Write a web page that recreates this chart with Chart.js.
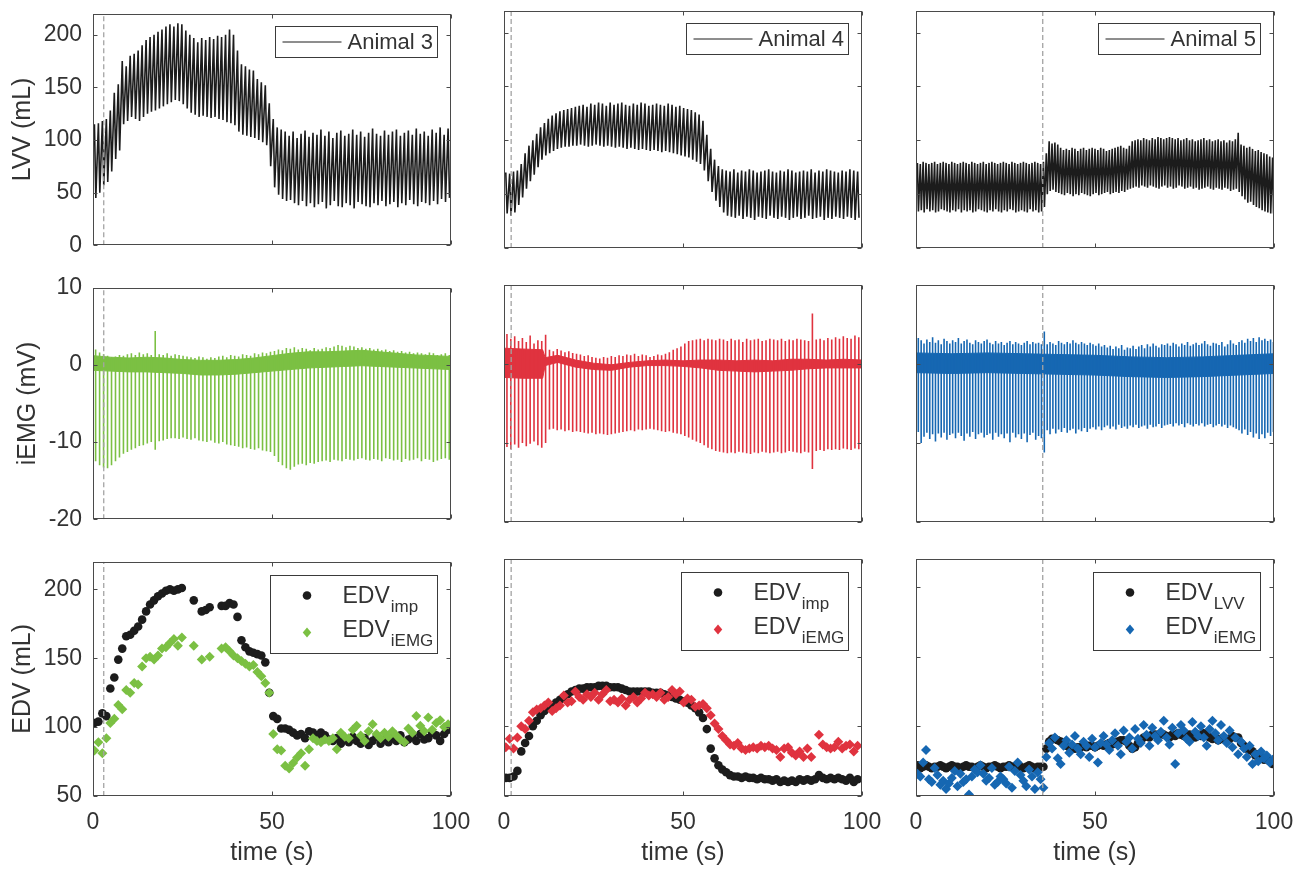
<!DOCTYPE html>
<html><head><meta charset="utf-8">
<script src="https://cdn.jsdelivr.net/npm/chart.js@4.4.0/dist/chart.umd.min.js"></script>
<style>
html,body{margin:0;padding:0;background:#fff;}
#wrap{position:relative;width:1303px;height:871px;overflow:hidden;background:#fff;}
canvas{position:absolute;}
</style></head><body><div id="wrap"></div>
<script>
// ---------------- DATA ----------------
const X_TICKS = [0, 50, 100];
const LVV_TICKS = [0, 50, 100, 150, 200];
const EMG_TICKS = [-20, -10, 0, 10];
const EDV_TICKS = [50, 100, 150, 200];
const LVV_RANGE = [0, 220];
const EMG_RANGE = [-20, 10];
const EDV_RANGE = [50, 220];
const MARK_T = [3, 2, 35.4];            // dashed vertical marker per animal
const ANIMALS = ['Animal 3', 'Animal 4', 'Animal 5'];
const EDV_SUBS = [['imp', 'iEMG'], ['imp', 'iEMG'], ['LVV', 'iEMG']];
const Y_TITLES = ['LVV (mL)', 'iEMG (mV)', 'EDV (mL)'];
const X_TITLE = 'time (s)';

// beat timing (first beat time, beat period) per animal
const A3_T0 = 0.4, A3_DT = 1.11;
const A4_T0 = 0.5, A4_DT = 1.08;
const A5_T0 = 0.4, A5_DT = 0.8;

// Animal 3 — LVV per-beat peaks / troughs (mL)
const A3_LVV_HI = [115,116,118,120,128,145,153,175,170,180,182,185,190,195,198,200,203,205,208,210,208,211,210,204,200,197,193,197,195,198,196,199,198,200,205,200,185,172,170,167,166,158,155,152,135,120,112,110,108,
104,108,102,106,109,103,107,105,110,104,108,102,107,109,104,106,110,105,108,103,107,111,106,104,109,105,108,110,104,107,109,105,111,106,108,104,110,107,112,105,111];
const A3_LVV_LO = [45,50,57,60,70,82,90,115,118,122,120,118,122,125,127,128,130,132,134,136,138,137,134,130,126,124,122,123,122,121,122,120,119,117,116,114,108,105,104,103,102,100,98,95,75,55,48,44,42,
43,40,38,42,37,40,36,39,41,35,38,42,37,36,40,38,35,41,39,37,36,40,38,42,37,39,41,36,40,38,43,39,37,41,40,38,42,39,44,41,45];
// Animal 3 — iEMG per-beat spike top / bottom (mV) and baseline band
const A3_EMG_UP = [2.0,1.6,1.4,1.2,1.0,1.1,1.3,1.2,1.4,1.5,1.3,1.6,1.4,1.5,1.3,4.4,
1.4,1.3,1.5,1.2,1.4,1.3,1.2,1.1,1.0,0.9,1.1,1.0,0.8,1.0,0.9,1.1,1.2,1.0,1.3,1.2,1.1,1.4,1.3,1.2,1.5,1.4,1.6,1.5,1.7,
1.8,2.0,1.9,2.2,2.1,2.3,2.0,2.2,2.1,1.9,2.2,2.0,2.1,2.3,2.2,2.4,2.6,2.5,2.3,2.5,2.4,2.2,2.3,2.1,2.2,2.0,2.1,1.9,2.0,1.8,1.9,1.7,1.8,1.6,1.7,1.5,1.6,1.5,1.4,1.6,1.5,1.3,1.4,1.5,1.3];
const A3_EMG_DN = [-12.5,-13.0,-13.3,-13.4,-13.0,-12.5,-12.0,-11.5,-11.3,-11.0,-10.8,-10.5,-10.4,-10.2,-10.0,-11.0,-9.9,-9.8,-9.6,-9.5,
-9.5,-9.6,-9.4,-9.6,-9.7,-9.5,-9.8,-9.9,-10.0,-9.8,-10.1,-10.2,-10.0,-10.3,
-10.4,-10.5,-10.6,-10.8,-10.7,-10.9,-11.0,-10.8,-11.1,-11.2,-11.3,-11.8,-12.6,-13.0,-13.4,-13.6,-13.2,-12.9,-12.8,-13.0,-12.7,-12.8,-12.6,
-12.5,-12.4,-12.6,-12.3,-12.4,-12.5,-12.2,-12.3,-12.4,-12.2,-12.1,-12.3,-12.4,-12.2,-12.3,-12.5,-12.1,-12.2,-12.4,-12.3,-12.6,-12.2,-12.4,-12.3,-12.1,-12.5,-12.2,-12.3,-12.6,-12.4,-12.2,-12.1,-12.3];
const A3_BAND_T = [0,5,10,15,20,25,30,35,40,45,50,55,60,65,70,75,80,85,90,95,100];
const A3_BAND_HI = [1.2,1.0,0.9,1.0,0.9,0.7,0.6,0.6,0.7,0.9,1.2,1.5,1.7,1.7,1.8,1.9,1.7,1.5,1.3,1.2,1.1];
const A3_BAND_LO = [-0.7,-0.8,-0.9,-0.9,-1.0,-1.1,-1.3,-1.3,-1.2,-1.0,-0.8,-0.6,-0.4,-0.3,-0.2,-0.1,-0.2,-0.3,-0.4,-0.5,-0.6];
// Animal 3 — EDV per beat (mL), null = no estimate
const A3_EDV_IMP = [103,104,110,108,128,136,149,157,166,167,170,173,178,184,189,192,195,197,199,200,199,200,201,null,null,192,null,184,185,187,
null,null,188,188,190,189,180,163,158,155,154,153,152,147,125,108,106,99,99,98,96,94,95,92,97,96,93,96,94,91,
90,92,88,91,89,93,90,88,92,87,90,93,88,91,89,92,90,94,89,91,93,90,95,91,92,96,94,90,95,98];
const A3_EDV_EMG = [83,89,81,92,103,106,116,113,127,125,132,131,144,150,151,149,152,157,158,161,164,159,165,null,null,159,null,149,null,151,
null,null,157,158,155,152,150,148,146,144,145,140,137,132,125,95,84,83,72,70,74,78,81,72,84,92,90,89,91,90,
92,84,96,93,92,98,101,94,90,97,102,95,92,96,93,97,94,91,89,99,96,108,101,97,107,98,103,105,100,102];

// Animal 4
const A4_LVV_HI = [70,69,71,72,78,88,95,100,106,112,116,120,123,125,127,128,129,130,131,
132,133,131,134,133,135,134,132,135,133,134,135,133,132,134,133,135,134,132,133,134,133,132,134,133,131,132,130,129,128,
126,124,118,105,92,82,76,73,
72,71,73,70,72,71,73,72,70,71,72,73,71,70,72,71,73,72,70,71,72,71,73,70,72,71,73,72,71,70,72,71,73,72,71];
const A4_LVV_LO = [32,30,33,40,47,55,62,68,75,82,86,88,90,92,93,94,94,
95,95,96,95,94,95,96,95,94,95,94,93,94,93,92,93,92,91,92,91,90,91,90,89,90,89,88,87,86,85,84,82,
80,78,72,62,52,44,38,33,
30,29,28,30,27,29,28,26,29,28,27,30,28,27,29,28,26,28,29,27,28,30,27,28,29,26,28,27,29,28,27,29,28,26,28];
const A4_EMG_UP = [3.8,3.2,3.5,2.9,3.3,2.8,3.6,2.6,3.0,2.9,3.7,1.8,1.6,1.9,1.7,1.5,1.6,1.4,1.3,
1.2,1.0,1.1,0.9,0.8,0.7,0.9,0.8,1.0,0.9,1.1,1.0,1.2,1.1,1.3,1.0,1.2,1.1,0.9,1.0,1.2,1.1,1.3,1.5,1.8,2.0,2.2,
2.6,2.9,3.0,3.1,3.2,3.0,3.2,3.1,
3.0,3.2,3.1,2.9,3.2,3.0,3.1,2.8,3.2,3.0,3.1,3.2,2.9,3.0,3.2,3.1,3.0,3.2,2.9,3.1,3.0,3.2,3.1,3.0,2.9,6.4,3.1,3.2,3.0,3.3,3.1,3.4,3.2,3.5,3.3,3.2,3.6,3.4];
const A4_EMG_DN = [-10.5,-10.8,-10.2,-10.6,-10.0,-10.4,-10.1,-9.8,-10.3,-10.6,-10.0,
-8.3,-8.2,-8.4,-8.3,-8.5,-8.4,-8.6,-8.5,-8.6,-8.7,-8.8,-8.7,-8.9,-8.8,-8.9,-9.0,-8.9,-8.8,-8.7,
-8.6,-8.5,-8.4,-8.5,-8.3,-8.4,-8.3,-8.2,-8.3,-8.4,-8.5,-8.6,-8.5,-8.7,-8.8,-8.9,
-9.1,-9.3,-9.6,-9.8,-10.0,-10.3,-10.6,-10.8,
-11.0,-11.1,-11.2,-11.3,-11.2,-11.3,-11.1,-11.2,-11.3,-11.4,-11.2,-11.3,-11.1,-11.2,-11.3,-11.2,-11.1,-11.3,-11.2,-11.0,
-11.1,-11.2,-11.3,-11.1,-11.2,-13.3,-11.0,-10.9,-11.0,-10.8,-10.9,-10.8,-10.9,-10.7,-10.8,-10.9,-10.7,-10.8];
const A4_BAND_T = [0,5,10.8,11.5,15,20,25,30,35,40,45,50,55,60,65,70,75,80,85,90,95,100];
const A4_BAND_HI = [2.0,1.9,1.8,0.8,1.1,0.5,0.1,-0.1,0.2,0.4,0.5,0.4,0.5,0.5,0.4,0.5,0.4,0.6,0.6,0.5,0.6,0.5];
const A4_BAND_LO = [-1.7,-1.8,-1.8,-0.2,0.2,-0.4,-0.7,-0.8,-0.4,-0.2,-0.2,-0.3,-0.5,-0.8,-0.9,-1.0,-0.9,-0.8,-0.6,-0.5,-0.5,-0.5];
const A4_EDV_IMP = [63,63,64,68,82,88,93,100,104,108,111,114,115,117,119,121,123,125,126,127,
127,128,128,128,129,129,129,128,128,128,127,126,125,125,125,125,125,125,124,124,
124,123,122,121,120,119,118,117,115,113,110,106,98,84,77,72,69,67,65,64,
64,63,64,63,63,62,63,62,62,61,62,60,61,60,61,60,62,61,62,61,62,65,63,62,63,62,63,62,61,63,60,62];
const A4_EDV_EMG = [85,91,84,92,100,98,104,110,112,113,115,117,111,113,115,122,117,118,125,121,
119,123,121,124,119,123,126,118,119,117,120,115,119,121,117,120,124,122,123,121,
124,119,121,126,123,125,117,120,119,114,115,116,113,108,102,98,93,90,87,86,
88,84,83,84,85,84,86,85,86,84,83,78,84,85,81,79,82,78,84,78,null,94,87,85,84,85,89,84,86,87,82,86];

// Animal 5
const A5_LVV_HI = [79,78,80,79,78,79,80,78,79,80,79,78,80,79,78,79,80,79,78,80,79,78,79,80,78,79,80,79,78,79,80,79,78,80,79,78,79,80,79,78,79,80,79,78,
80,88,99,97,98,96,93,91,92,91,93,92,90,92,93,91,92,93,92,91,93,92,90,91,92,93,94,95,93,92,
95,99,100,101,100,102,101,100,102,101,103,102,101,102,103,102,101,102,100,101,102,100,101,99,100,101,102,100,101,99,
100,101,99,100,98,100,99,101,107,96,95,93,94,92,90,91,89,88,87,85,84];
const A5_LVV_LO = [34,35,33,36,34,35,33,34,36,35,34,33,35,34,36,33,35,34,35,33,34,36,35,34,33,35,34,36,34,33,35,34,36,35,33,34,35,34,33,36,34,35,33,34,
38,50,53,54,52,51,50,
49,51,50,48,50,49,51,50,49,48,50,51,49,50,51,52,50,51,52,51,53,52,54,
55,56,57,56,58,57,56,58,57,56,55,57,58,56,57,55,56,58,57,55,56,57,55,56,54,55,56,57,55,54,56,55,54,56,55,53,54,55,
52,48,45,42,43,40,38,37,35,34,33,32,32];
const A5_EMG_UP = [3.3,3.0,2.6,3.1,2.8,3.4,2.7,3.0,2.5,3.2,2.9,2.6,3.0,2.8,3.3,2.6,2.9,3.1,2.7,2.5,3.0,2.8,2.6,2.9,3.1,2.7,2.5,2.9,2.6,2.8,2.4,2.7,2.9,2.5,2.8,2.6,2.4,2.7,2.9,2.5,2.8,2.6,2.7,2.5,
4.1,
2.5,2.8,2.6,2.4,2.9,2.7,2.5,2.8,2.6,3.0,2.7,2.5,2.8,2.6,2.4,2.7,
2.5,2.3,2.6,2.2,2.4,2.1,2.3,1.9,2.2,2.0,2.4,1.8,2.1,2.0,2.3,1.9,2.2,2.4,2.0,2.5,2.2,2.6,2.3,2.1,2.5,2.4,2.6,
2.3,2.7,2.5,2.2,2.6,2.4,2.8,2.3,2.5,2.7,2.4,2.6,2.9,2.5,2.3,2.7,2.6,2.4,2.8,2.2,2.5,3.0,2.6,2.4,
2.8,3.0,2.7,3.2,2.9,3.3,2.8,3.4,3.0,3.2,2.9,3.1,2.8];
const A5_EMG_DN = [-8.6,-10.0,-9.2,-8.7,-9.5,-8.9,-9.8,-8.8,-9.3,-8.7,-9.6,-9.0,-8.8,-9.4,-8.7,-9.1,-9.7,-8.8,-9.2,-8.6,-9.5,-8.9,-8.7,-9.3,-9.0,-8.8,-9.6,-8.7,-9.2,-8.9,-9.4,-8.8,-9.9,-8.7,-9.3,-8.9,-9.5,-8.8,-9.9,-9.0,-8.7,-9.6,-9.1,-9.4,
-11.2,
-8.4,-8.9,-8.2,-8.8,-8.3,-8.6,-8.1,-8.7,-8.4,-8.2,-8.8,-8.3,-8.5,-8.1,-8.6,-8.2,
-8.0,-8.3,-7.9,-8.4,-8.0,-7.8,-8.2,-7.9,-8.3,-7.7,-8.1,-7.9,-8.2,-7.8,-8.0,-7.7,-8.1,-7.9,-7.8,-8.2,-7.7,-8.0,-7.9,-7.6,-8.1,-7.8,-7.7,
-7.6,-7.9,-7.5,-7.8,-7.6,-8.0,-7.5,-7.7,-7.9,-7.6,-7.8,-7.5,-7.9,-7.7,-7.6,-8.0,-7.8,-7.6,-7.9,-7.7,-8.1,-7.8,-8.0,-8.2,
-8.4,-8.8,-8.3,-9.0,-8.6,-9.3,-8.8,-9.5,-8.9,-9.4,-8.7,-9.1,-8.6];
const A5_BAND_T = [0,10,20,30,40,50,60,70,80,90,100];
const A5_BAND_HI = [1.4,1.3,1.4,1.3,1.2,1.1,0.9,0.8,0.9,1.1,1.3];
const A5_BAND_LO = [-1.1,-1.2,-1.1,-1.2,-1.3,-1.4,-1.6,-1.7,-1.6,-1.4,-1.2];
const A5_EDV_LVV = [72,70,71,72,71,70,71,71,72,71,70,71,72,71,71,70,71,72,71,71,70,71,72,71,70,71,71,72,71,70,71,71,72,71,70,71,71,70,71,72,71,70,71,71,
71,84,89,91,91,90,89,88,86,85,84,84,85,85,86,85,86,86,85,86,87,86,87,88,87,88,89,90,90,89,
86,84,85,88,90,92,93,92,94,94,93,95,94,93,92,94,93,95,94,93,92,94,93,92,94,93,95,94,92,91,
92,90,91,92,90,91,93,92,92,88,86,84,83,82,79,80,78,76,77,75,73];
const A5_EDV_EMG = [66,64,74,83,62,60,70,65,58,61,55,59,63,68,57,66,60,62,51,64,69,67,72,66,61,63,70,58,60,64,62,59,71,56,68,74,65,61,57,69,64,55,67,62,56,
78,88,84,92,77,73,86,90,81,87,93,84,80,89,86,78,91,85,74,88,93,87,83,90,95,86,80,97,89,92,
84,98,91,88,101,94,86,99,93,90,96,104,92,87,99,73,95,101,97,91,89,103,96,93,100,92,86,98,104,95,
90,101,93,88,97,85,92,80,89,84,78,86,73,80,75,82,77,79,74,76];

// ---------------- STYLE / LAYOUT ----------------
const FONT = "'Liberation Sans', Arial, Helvetica, sans-serif";
const TXT = '#333333', AXC = '#4a4a4a';
const BLACK = '#1c1c1c';
const COLORS = ['#7BC043', '#E0333F', '#1667B2'];
const COL_L = [93, 504, 916], ROW_T = [11, 285, 559];
const PW = 358, PH = 237, ML = 93, MR = 44, MT = 22, MB = [22, 22, 75];
const YT_PAD = [8, 13, 8];
const TICK_FS = 23, TITLE_FS = 25;

function beatTimes(n, t0, dt) { const a = []; for (let i = 0; i < n; i++) a.push(t0 + i * dt); return a; }
function lvvData(hi, lo, t0, dt) {
  const t = beatTimes(hi.length, t0, dt), d = [];
  for (let i = 0; i < hi.length; i++) { d.push({x: t[i], y: hi[i]}); d.push({x: t[i] + 0.35 * dt, y: lo[i]}); }
  return d;
}
function spikeData(up, dn, t0, dt) {
  const t = beatTimes(up.length, t0, dt), d = [];
  for (let i = 0; i < up.length; i++) {
    const x = t[i] + 0.3 * dt;
    d.push({x, y: up[i]}, {x, y: dn[i]}, {x, y: null});
  }
  return d;
}
function series(tt, v) { return tt.map((x, i) => ({x, y: v[i]})); }
function edvData(v, t0, dt) { const t = beatTimes(v.length, t0, dt); return v.map((y, i) => ({x: t[i], y})).filter(p => p.y !== null); }

const framePlugin = {
  id: 'mframe',
  afterDraw(chart) {
    const ctx = chart.ctx, a = chart.chartArea, xs = chart.scales.x, ys = chart.scales.y, TL = 4;
    ctx.save();
    ctx.strokeStyle = AXC; ctx.lineWidth = 1;
    const L = Math.round(a.left) + 0.5, R = Math.round(a.right) - 0.5, T = Math.round(a.top) + 0.5, B = Math.round(a.bottom) - 0.5;
    ctx.strokeRect(L, T, R - L, B - T);
    ctx.beginPath();
    xs.ticks.forEach(tk => {
      const p = Math.round(xs.getPixelForValue(tk.value)) + 0.5;
      ctx.moveTo(p, B); ctx.lineTo(p, B - TL); ctx.moveTo(p, T); ctx.lineTo(p, T + TL);
    });
    ys.ticks.forEach(tk => {
      const p = Math.round(ys.getPixelForValue(tk.value)) + 0.5;
      ctx.moveTo(L, p); ctx.lineTo(L + TL, p); ctx.moveTo(R, p); ctx.lineTo(R - TL, p);
    });
    ctx.stroke();
    ctx.restore();
  }
};

function drawMarker(ctx, style, r, x, y, color) {
  ctx.fillStyle = color;
  ctx.beginPath();
  if (style === 'circle') ctx.arc(x, y, r, 0, Math.PI * 2);
  else { ctx.moveTo(x, y - r); ctx.lineTo(x + r * 0.85, y); ctx.lineTo(x, y + r); ctx.lineTo(x - r * 0.85, y); ctx.closePath(); }
  ctx.fill();
}

const legendPlugin = {
  id: 'mlegend',
  afterDraw(chart, args, o) {
    if (!o || !o.items) return;
    const ctx = chart.ctx, a = chart.chartArea;
    const bx = Math.round(a.right - o.right - o.w) + 0.5, by = Math.round(a.top + o.top) + 0.5;
    ctx.save();
    ctx.fillStyle = '#fff'; ctx.fillRect(bx, by, o.w, o.h);
    ctx.strokeStyle = '#3a3a3a'; ctx.lineWidth = 1; ctx.strokeRect(bx, by, o.w, o.h);
    o.items.forEach(it => {
      if (it.kind === 'line') {
        ctx.beginPath(); ctx.moveTo(bx + 7, by + it.y); ctx.lineTo(bx + 66, by + it.y);
        ctx.strokeStyle = it.color; ctx.lineWidth = 1; ctx.stroke();
        ctx.fillStyle = TXT; ctx.font = '22px ' + FONT; ctx.textBaseline = 'middle'; ctx.textAlign = 'left';
        ctx.fillText(it.label, bx + 72, by + it.y + 0.5);
      } else {
        drawMarker(ctx, it.style, it.r, bx + 36.5, by + it.y, it.color);
        ctx.fillStyle = TXT; ctx.textBaseline = 'alphabetic'; ctx.textAlign = 'left';
        ctx.font = '23px ' + FONT;
        ctx.fillText(it.label, bx + 72, by + it.ty);
        const w = ctx.measureText(it.label).width;
        ctx.font = '17px ' + FONT;
        ctx.fillText(it.sub, bx + 72 + w + 1, by + it.ty + 9);
      }
    });
    ctx.restore();
  }
};

const wrap = document.getElementById('wrap');

function makePanel(r, c, datasets, range, yTicks, legend) {
  const cv = document.createElement('canvas');
  const W = ML + PW + MR, H = MT + PH + MB[r];
  cv.width = W; cv.height = H;
  cv.style.left = (COL_L[c] - ML) + 'px'; cv.style.top = (ROW_T[r] - MT) + 'px';
  cv.style.width = W + 'px'; cv.style.height = H + 'px';
  wrap.appendChild(cv);
  new Chart(cv, {
    type: 'line',
    data: {datasets},
    options: {
      responsive: false, animation: false, devicePixelRatio: 1, events: [],
      layout: {padding: {left: 0, right: MR, top: MT, bottom: 0}},
      elements: {point: {radius: 0}, line: {tension: 0}},
      plugins: {legend: {display: false}, tooltip: {enabled: false}, mlegend: legend},
      scales: {
        x: {
          type: 'linear', min: 0, max: 100,
          grid: {display: false, drawTicks: false}, border: {display: false},
          afterBuildTicks: s => { s.ticks = X_TICKS.map(v => ({value: v})); },
          afterFit: s => { s.height = MB[r]; },
          ticks: {display: r === 2, padding: 13, color: TXT, font: {family: FONT, size: TICK_FS}, maxRotation: 0, autoSkip: false},
          title: {display: r === 2, text: X_TITLE, color: TXT, font: {family: FONT, size: TITLE_FS}, padding: {top: 0, bottom: 3}}
        },
        y: {
          type: 'linear', min: range[0], max: range[1],
          grid: {display: false, drawTicks: false}, border: {display: false},
          afterBuildTicks: s => { s.ticks = yTicks.map(v => ({value: v})); },
          afterFit: s => { s.width = ML; },
          ticks: {display: c === 0, padding: 11, color: TXT, font: {family: FONT, size: TICK_FS}, autoSkip: false},
          title: {display: c === 0, text: Y_TITLES[r], color: TXT, font: {family: FONT, size: TITLE_FS}, padding: {top: YT_PAD[r], bottom: 0}}
        }
      }
    },
    plugins: [framePlugin, legendPlugin]
  });
}

function markerLine(c, range) {
  return {data: [{x: MARK_T[c], y: range[0]}, {x: MARK_T[c], y: range[1]}], borderColor: '#a3a3a3', borderWidth: 1.3, borderDash: [5, 3], pointRadius: 0, order: 0};
}

const ANIMAL_DATA = [
  {t0: A3_T0, dt: A3_DT, hi: A3_LVV_HI, lo: A3_LVV_LO, up: A3_EMG_UP, dn: A3_EMG_DN, bt: A3_BAND_T, bh: A3_BAND_HI, bl: A3_BAND_LO, e1: A3_EDV_IMP, e2: A3_EDV_EMG},
  {t0: A4_T0, dt: A4_DT, hi: A4_LVV_HI, lo: A4_LVV_LO, up: A4_EMG_UP, dn: A4_EMG_DN, bt: A4_BAND_T, bh: A4_BAND_HI, bl: A4_BAND_LO, e1: A4_EDV_IMP, e2: A4_EDV_EMG},
  {t0: A5_T0, dt: A5_DT, hi: A5_LVV_HI, lo: A5_LVV_LO, up: A5_EMG_UP, dn: A5_EMG_DN, bt: A5_BAND_T, bh: A5_BAND_HI, bl: A5_BAND_LO, e1: A5_EDV_LVV, e2: A5_EDV_EMG}
];

ANIMAL_DATA.forEach((A, c) => {
  const col = COLORS[c];
  // Row 1: LVV
  makePanel(0, c, [
    markerLine(c, LVV_RANGE),
    {data: lvvData(A.hi, A.lo, A.t0, A.dt), borderColor: BLACK, borderWidth: 1.6, pointRadius: 0, order: 1}
  ], LVV_RANGE, LVV_TICKS,
  {w: 162, h: 31, right: 14, top: 12, items: [{kind: 'line', color: BLACK, label: ANIMALS[c], y: 15.5}]});
  // Row 2: iEMG
  makePanel(1, c, [
    markerLine(c, EMG_RANGE),
    {data: series(A.bt, A.bl), borderColor: col, borderWidth: 1, pointRadius: 0, order: 3},
    {data: series(A.bt, A.bh), borderColor: col, backgroundColor: col, borderWidth: 1, pointRadius: 0, fill: '-1', order: 2},
    {data: spikeData(A.up, A.dn, A.t0, A.dt), borderColor: col, borderWidth: 1.6, pointRadius: 0, spanGaps: false, order: 1}
  ], EMG_RANGE, EMG_TICKS, null);
  // Row 3: EDV
  makePanel(2, c, [
    markerLine(c, EDV_RANGE),
    {data: edvData(A.e2, A.t0, A.dt), showLine: false, pointStyle: 'rectRot', pointRadius: 5, pointBackgroundColor: col, pointBorderWidth: 0, order: 1},
    {data: edvData(A.e1, A.t0, A.dt), showLine: false, pointStyle: 'circle', pointRadius: 4.3, pointBackgroundColor: BLACK, pointBorderWidth: 0, order: 2}
  ], EDV_RANGE, EDV_TICKS,
  {w: 167, h: 78, right: 14, top: 13, items: [
    {kind: 'marker', style: 'circle', r: 4.3, color: BLACK, label: 'EDV', sub: EDV_SUBS[c][0], y: 20, ty: 27},
    {kind: 'marker', style: 'diamond', r: 5, color: col, label: 'EDV', sub: EDV_SUBS[c][1], y: 57, ty: 61}
  ]});
});
</script></body></html>
